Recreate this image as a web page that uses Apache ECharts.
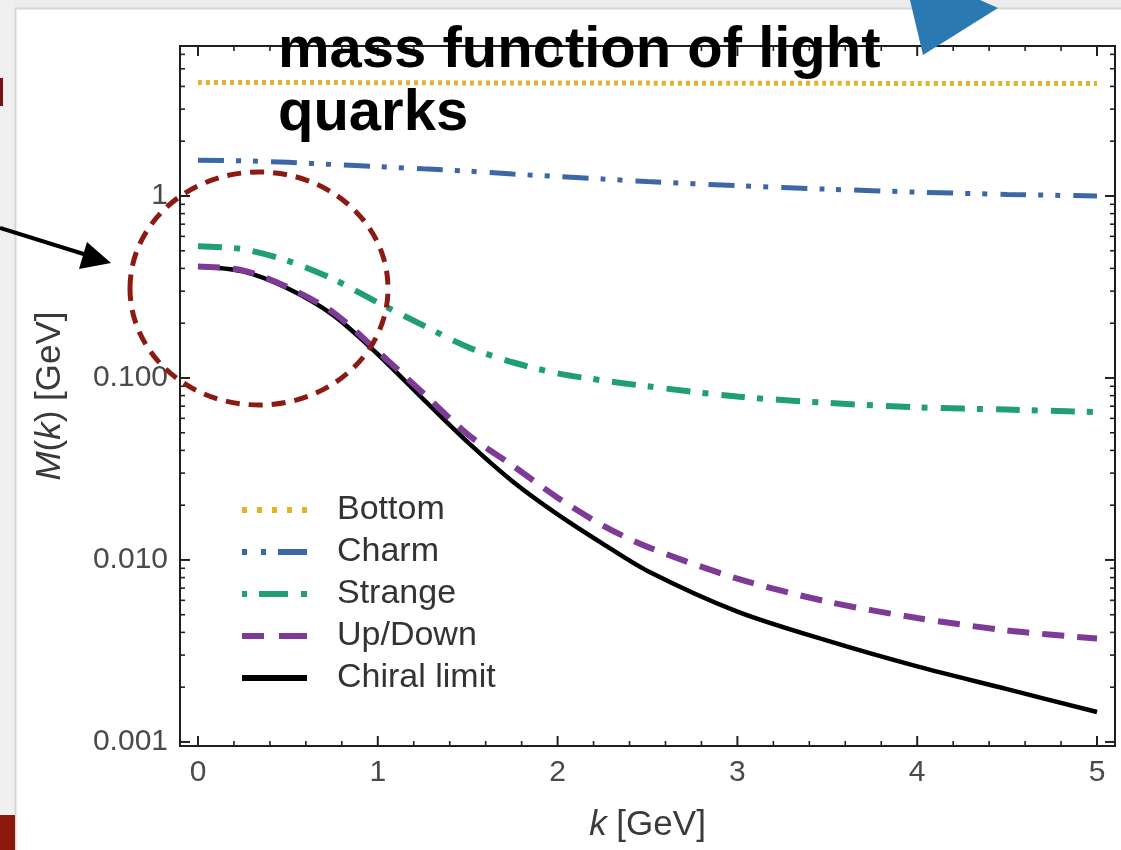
<!DOCTYPE html>
<html><head><meta charset="utf-8">
<script src="https://cdn.jsdelivr.net/npm/echarts@6/dist/echarts.min.js"></script>
<style>html,body{margin:0;padding:0;background:#fff;}#chart{width:1121px;height:850px;}</style>
</head><body><div id="chart"></div>
<script>
// ---- data ----
const seriesNames = ['Bottom', 'Charm', 'Strange', 'Up/Down', 'Chiral limit'];
const kValues = [0, 0.25, 0.5, 0.75, 1, 1.25, 1.5, 1.75, 2, 2.25, 2.5, 3, 3.5, 4, 4.5, 5];
const bottomMass  = [4.2, 4.2, 4.2, 4.2, 4.19, 4.19, 4.18, 4.18, 4.18, 4.17, 4.17, 4.16, 4.16, 4.15, 4.15, 4.15];
const charmMass   = [1.57, 1.56, 1.53, 1.49, 1.45, 1.41, 1.37, 1.32, 1.28, 1.24, 1.20, 1.14, 1.09, 1.05, 1.02, 1.0];
const strangeMass = [0.53, 0.51, 0.44, 0.35, 0.26, 0.195, 0.148, 0.122, 0.106, 0.097, 0.090, 0.079, 0.073, 0.069, 0.067, 0.065];
const upDownMass  = [0.41, 0.39, 0.315, 0.23, 0.14, 0.083, 0.049, 0.033, 0.022, 0.0155, 0.0118, 0.0079, 0.0059, 0.0048, 0.0041, 0.0037];
const chiralMass  = [0.41, 0.385, 0.31, 0.222, 0.135, 0.077, 0.0444, 0.027, 0.0178, 0.0123, 0.0087, 0.0052, 0.0036, 0.0026, 0.00195, 0.00146];

const xTickValues = [0, 1, 2, 3, 4, 5];
const xTickLabels = ['0', '1', '2', '3', '4', '5'];
const yTickValues = [0.001, 0.01, 0.1, 1];
const yTickLabels = ['0.001', '0.010', '0.100', '1'];
const yMinorMantissas = [2, 3, 4, 5, 6, 7, 8, 9];
const xMinorStep = 0.2;

const titleText = 'mass function of light\nquarks';

// legend swatches (dash patterns drawn as paths, in a 65 x 6 box)
const legendIcons = {
  'Bottom': 'path://M0,0h5v6h-5zM15,0h5v6h-5zM30,0h5v6h-5zM45,0h5v6h-5zM60,0h5v6h-5z',
  'Charm': 'path://M0,0h5v6h-5zM19,0h5v6h-5zM36,0h29v6h-29z',
  'Strange': 'path://M0,0h5v6h-5zM17,0h29v6h-29zM59,0h6v6h-6z',
  'Up/Down': 'path://M0,0h22v6h-22zM37,0h28v6h-28z',
  'Chiral limit': 'path://M0,0h65v6h-65z'
};

// ---- build ----
function pairs(vals) { return kValues.map((k, i) => [k, vals[i]]); }

const xMin = -0.1, xMax = 5.1, yMin = 0.00095, yMax = 6.67;

const xTickData = [];
xTickValues.forEach(v => xTickData.push([v, 1, 1]));
for (let k = 0; k < xTickValues.length - 1; k++) {
  for (let j = 1; j < 5; j++) xTickData.push([xTickValues[k] + j * xMinorStep, 1, 0]);
}
const yTickData = [];
yTickValues.forEach(v => yTickData.push([0, v, 1]));
yTickValues.forEach(v => yMinorMantissas.forEach(m => { const t = m * v; if (t < yMax) yTickData.push([0, t, 0]); }));

function ticksRenderer(isX) {
  return function (params, api) {
    const cs = params.coordSys;
    const major = api.value(2) === 1;
    const L = major ? 10 : 5;
    const style = { stroke: '#222', lineWidth: major ? 2 : 1.6 };
    if (isX) {
      const x = api.coord([api.value(0), 1])[0];
      return { type: 'group', children: [
        { type: 'line', shape: { x1: x, y1: cs.y + cs.height, x2: x, y2: cs.y + cs.height - L }, style: style },
        { type: 'line', shape: { x1: x, y1: cs.y, x2: x, y2: cs.y + L }, style: style }
      ]};
    } else {
      const y = api.coord([0, api.value(1)])[1];
      return { type: 'group', children: [
        { type: 'line', shape: { x1: cs.x, y1: y, x2: cs.x + L, y2: y }, style: style },
        { type: 'line', shape: { x1: cs.x + cs.width, y1: y, x2: cs.x + cs.width - L, y2: y }, style: style }
      ]};
    }
  };
}

function labelFor(values, labels, v) {
  for (let i = 0; i < values.length; i++) {
    if (Math.abs(v - values[i]) <= Math.abs(values[i]) * 1e-6 + 1e-9) return labels[i];
  }
  return '';
}

const fontFam = '"Liberation Sans", Arial, sans-serif';
const chart = echarts.init(document.getElementById('chart'));
chart.setOption({
  backgroundColor: '#ffffff',
  animation: false,
  grid: { left: 180, right: 6, top: 46, bottom: 104, show: true, borderColor: '#1e1e1e', borderWidth: 2, backgroundColor: 'transparent' },
  xAxis: {
    type: 'value', min: xMin, max: xMax,
    axisLine: { show: false }, axisTick: { show: false }, splitLine: { show: false },
    axisLabel: { margin: 12, fontSize: 30, color: '#4a4a4a', fontFamily: fontFam,
      formatter: v => labelFor(xTickValues, xTickLabels, v) },
    name: '{i|k} [GeV]', nameLocation: 'middle', nameGap: 62,
    nameTextStyle: { fontSize: 35, color: '#3a3a3a', fontFamily: fontFam,
      rich: { i: { fontStyle: 'italic', fontSize: 35, color: '#3a3a3a', fontFamily: fontFam } } }
  },
  yAxis: {
    type: 'log', logBase: 10, min: yMin, max: yMax,
    axisLine: { show: false }, axisTick: { show: false }, splitLine: { show: false },
    axisLabel: { margin: 12, fontSize: 30, color: '#4a4a4a', fontFamily: fontFam,
      formatter: v => labelFor(yTickValues, yTickLabels, v) },
    name: '{i|M}({i|k}) [GeV]', nameLocation: 'middle', nameGap: 112, nameRotate: 90,
    nameTextStyle: { fontSize: 35, color: '#3a3a3a', fontFamily: fontFam,
      rich: { i: { fontStyle: 'italic', fontSize: 35, color: '#3a3a3a', fontFamily: fontFam } } }
  },
  legend: {
    data: seriesNames.map(n => ({ name: n, icon: legendIcons[n] })),
    orient: 'vertical', left: 237, top: 488,
    itemWidth: 65, itemHeight: 6, itemGap: 8,
    textStyle: { fontSize: 34, lineHeight: 34, color: '#333', fontFamily: fontFam, padding: [0, 0, 0, 25] },
    selectedMode: false
  },
  series: [
    { name: 'Chiral limit', type: 'line', data: pairs(chiralMass), smooth: 0.3, showSymbol: false, symbol: 'none',
      lineStyle: { color: '#000000', width: 4.5 }, itemStyle: { color: '#000000' }, z: 2 },
    { name: 'Up/Down', type: 'line', data: pairs(upDownMass), smooth: 0.3, showSymbol: false, symbol: 'none',
      lineStyle: { color: '#7d3a96', width: 6, type: [22, 13] }, itemStyle: { color: '#7d3a96' }, z: 3 },
    { name: 'Strange', type: 'line', data: pairs(strangeMass), smooth: 0.3, showSymbol: false, symbol: 'none',
      lineStyle: { color: '#1f9e78', width: 6, type: [24, 12, 6, 13] }, itemStyle: { color: '#1f9e78' }, z: 3 },
    { name: 'Charm', type: 'line', data: pairs(charmMass), smooth: 0.3, showSymbol: false, symbol: 'none',
      lineStyle: { color: '#3c67a6', width: 5, type: [26, 12, 5, 12, 5, 13] }, itemStyle: { color: '#3c67a6' }, z: 3 },
    { name: 'Bottom', type: 'line', data: pairs(bottomMass), smooth: 0.3, showSymbol: false, symbol: 'none',
      lineStyle: { color: '#e3b32c', width: 5, type: [4, 4] }, itemStyle: { color: '#e3b32c' }, z: 3 },
    { type: 'custom', name: 'xticks', data: xTickData, encode: { x: 0, y: 1 }, renderItem: ticksRenderer(true), silent: true, clip: false, z: 5 },
    { type: 'custom', name: 'yticks', data: yTickData, encode: { x: 0, y: 1 }, renderItem: ticksRenderer(false), silent: true, clip: false, z: 5 }
  ],
  graphic: { elements: [
    { type: 'rect', shape: { x: 0, y: 0, width: 1121, height: 8 }, style: { fill: '#ececec' }, z: 50, silent: true },
    { type: 'rect', shape: { x: 0, y: 0, width: 15, height: 850 }, style: { fill: '#efefef' }, z: 50, silent: true },
    { type: 'line', shape: { x1: 15, y1: 8.5, x2: 1121, y2: 8.5 }, style: { stroke: '#d6d6d6', lineWidth: 2 }, z: 51, silent: true },
    { type: 'line', shape: { x1: 15.5, y1: 8, x2: 15.5, y2: 850 }, style: { stroke: '#d6d6d6', lineWidth: 2 }, z: 51, silent: true },
    { type: 'rect', shape: { x: 0, y: 78, width: 3, height: 28 }, style: { fill: '#7a1010' }, z: 52, silent: true },
    { type: 'rect', shape: { x: 0, y: 815, width: 15, height: 35 }, style: { fill: '#8a1a0c' }, z: 52, silent: true },
    { type: 'line', shape: { x1: 0, y1: 228, x2: 90, y2: 256 }, style: { stroke: '#000', lineWidth: 4 }, z: 52, silent: true },
    { type: 'polygon', shape: { points: [[111, 263], [87, 242], [79, 269]] }, style: { fill: '#000' }, z: 52, silent: true },
    { type: 'ellipse', shape: { cx: 259, cy: 288.5, rx: 129, ry: 116.5 }, style: { fill: null, stroke: '#8b1a12', lineWidth: 5, lineDash: [14, 9] }, z: 52, silent: true },
    { type: 'polygon', shape: { points: [[910, 0], [980, 0], [998, 8], [923, 55]] }, style: { fill: '#2a79b2' }, z: 52, silent: true },
    { type: 'text', x: 278, y: 19, style: { text: titleText, font: 'bold 58px ' + fontFam, fill: '#000', lineHeight: 63 }, z: 53, silent: true }
  ]}
});
</script></body></html>
